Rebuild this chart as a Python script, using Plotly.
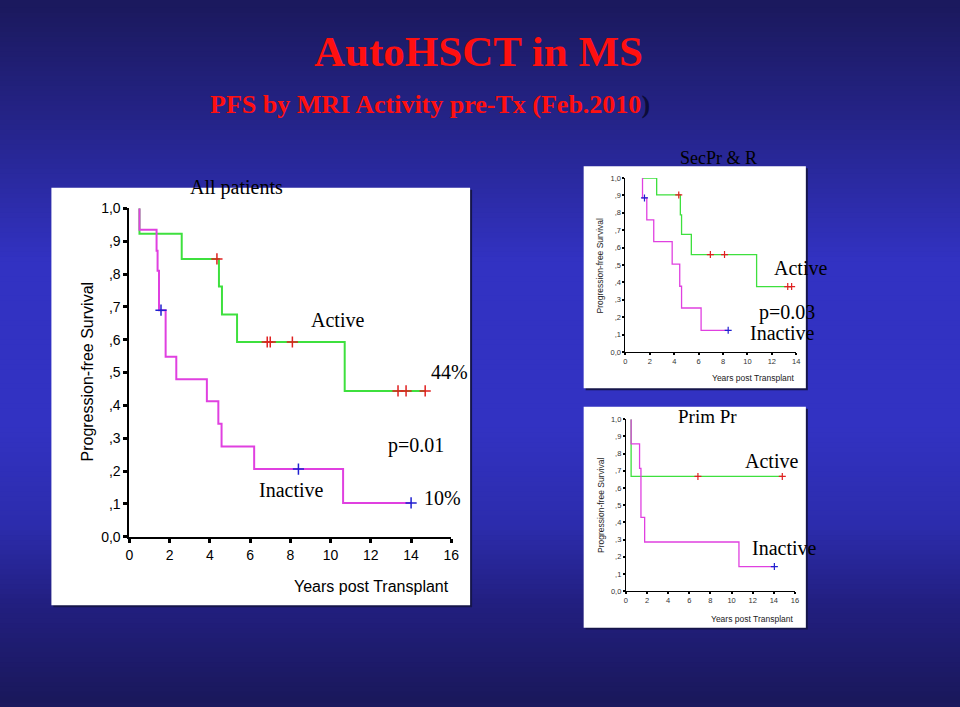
import plotly.graph_objects as go

W, H = 960, 707

# ---------------- data ----------------
# All patients
all_act_x = [0.5, 0.5, 2.6, 4.45, 4.6, 5.35, 10.7, 14.7]
all_act_y = [1.0, 0.923, 0.846, 0.762, 0.677, 0.593, 0.444, 0.444]
all_act_cx = [4.35, 6.85, 7.0, 8.1, 13.35, 13.75, 14.7]
all_act_cy = [0.846, 0.593, 0.593, 0.593, 0.444, 0.444, 0.444]
all_ina_x = [0.5, 0.5, 1.35, 1.4, 1.47, 1.8, 2.33, 3.85, 4.42, 4.58, 6.2, 10.62, 14.0]
all_ina_y = [1.0, 0.935, 0.871, 0.81, 0.69, 0.548, 0.48, 0.413, 0.344, 0.275, 0.206, 0.103, 0.103]
all_ina_cx = [1.57, 8.4, 14.0]
all_ina_cy = [0.69, 0.206, 0.103]

# SecPr & R
sec_act_x = [1.4, 2.56, 4.5, 4.6, 5.4, 10.75, 13.62]
sec_act_y = [1.0, 0.903, 0.788, 0.676, 0.56, 0.376, 0.376]
sec_act_cx = [4.37, 6.96, 8.12, 13.3, 13.62]
sec_act_cy = [0.903, 0.56, 0.56, 0.376, 0.376]
sec_ina_x = [1.4, 1.4, 1.75, 2.32, 3.83, 4.45, 4.6, 6.2, 8.42]
sec_ina_y = [1.0, 0.886, 0.76, 0.635, 0.505, 0.378, 0.253, 0.125, 0.125]
sec_ina_cx = [1.56, 8.42]
sec_ina_cy = [0.886, 0.125]

# Prim Pr
pri_act_x = [0.5, 0.5, 14.8]
pri_act_y = [1.0, 0.667, 0.667]
pri_act_cx = [6.82, 14.8]
pri_act_cy = [0.667, 0.667]
pri_ina_x = [0.5, 0.5, 1.3, 1.43, 1.78, 10.7, 14.05]
pri_ina_y = [1.0, 0.857, 0.714, 0.429, 0.286, 0.143, 0.143]
pri_ina_cx = [14.05]
pri_ina_cy = [0.143]

y_tickvals = [0, 0.1, 0.2, 0.3, 0.4, 0.5, 0.6, 0.7, 0.8, 0.9, 1.0]
y_ticktext = ["0,0", ",1", ",2", ",3", ",4", ",5", ",6", ",7", ",8", ",9", "1,0"]
x_ticks_16 = [0, 2, 4, 6, 8, 10, 12, 14, 16]
x_ticks_14 = [0, 2, 4, 6, 8, 10, 12, 14]

GREEN = "#3ee03e"
MAGENTA = "#e040e0"
RED = "#e02020"
BLUE = "#2020d0"


def px(x):
    return x / W


def py(y):
    return 1 - y / H


fig = go.Figure()

# ---------------- background gradient ----------------
stops = [(0, (27, 25, 94)), (120, (37, 36, 138)), (260, (50, 50, 194)),
         (430, (50, 50, 194)), (530, (44, 44, 172)), (610, (34, 31, 128)),
         (707, (26, 24, 92))]


def col_at(y):
    for (y0, c0), (y1, c1) in zip(stops[:-1], stops[1:]):
        if y0 <= y <= y1:
            t = (y - y0) / (y1 - y0)
            c = [round(a + (b - a) * t) for a, b in zip(c0, c1)]
            return "rgb(%d,%d,%d)" % tuple(c)
    return "rgb(%d,%d,%d)" % stops[-1][1]


shapes = []
step = 5
for y0 in range(0, H, step):
    shapes.append(dict(type="rect", xref="paper", yref="paper", x0=-0.01, x1=1.01,
                       y0=py(y0 + step + 0.5), y1=py(y0 - 0.5), fillcolor=col_at(y0 + step / 2),
                       line=dict(width=0), layer="below"))

# white panels
for (x0, y0, x1, y1) in [(48, 184, 472, 611), (587, 162, 812, 389), (587, 408, 812, 634)]:
    shapes.append(dict(type="rect", xref="paper", yref="paper", x0=px(x0 + 2), x1=px(x1 + 2),
                       y0=py(y1 + 2), y1=py(y0 + 2), fillcolor="#15154a",
                       line=dict(width=0), layer="below"))
    shapes.append(dict(type="rect", xref="paper", yref="paper", x0=px(x0), x1=px(x1),
                       y0=py(y1), y1=py(y0), fillcolor="white",
                       line=dict(width=0), layer="below"))


# ---------------- traces ----------------
def add_km(x, y, cx, cy, color, ccolor, xa, ya, lw, msize, mlw):
    fig.add_trace(go.Scatter(x=x, y=y, mode="lines", line=dict(color=color, width=lw, shape="hv"),
                             xaxis=xa, yaxis=ya, showlegend=False, cliponaxis=False,
                             hoverinfo="skip"))
    fig.add_trace(go.Scatter(x=cx, y=cy, mode="markers",
                             marker=dict(symbol="cross-thin", size=msize,
                                         line=dict(color=ccolor, width=mlw)),
                             xaxis=xa, yaxis=ya, showlegend=False, cliponaxis=False,
                             hoverinfo="skip"))


add_km(all_act_x, all_act_y, all_act_cx, all_act_cy, GREEN, RED, "x", "y", 2, 8, 1.5)
add_km(all_ina_x, all_ina_y, all_ina_cx, all_ina_cy, MAGENTA, BLUE, "x", "y", 2, 8, 1.5)
add_km(sec_act_x, sec_act_y, sec_act_cx, sec_act_cy, GREEN, RED, "x2", "y2", 1.3, 5, 1.2)
add_km(sec_ina_x, sec_ina_y, sec_ina_cx, sec_ina_cy, MAGENTA, BLUE, "x2", "y2", 1.3, 5, 1.2)
add_km(pri_act_x, pri_act_y, pri_act_cx, pri_act_cy, GREEN, RED, "x3", "y3", 1.3, 5, 1.2)
add_km(pri_ina_x, pri_ina_y, pri_ina_cx, pri_ina_cy, MAGENTA, BLUE, "x3", "y3", 1.3, 5, 1.2)

# ---------------- axes ----------------
SANS = "Liberation Sans, Arial, sans-serif"
SERIF = "Liberation Serif, Times New Roman, serif"


def xaxis(dom_px, rng, ticks, anchor, fs, tl, tw, lw, col):
    return dict(domain=[px(dom_px[0]), px(dom_px[1])], range=rng, anchor=anchor,
                tickvals=ticks, ticktext=[str(t) for t in ticks], showgrid=False, zeroline=False,
                showline=True, linecolor="black", linewidth=lw, ticks="outside", ticklen=tl,
                tickwidth=tw, tickcolor="black", tickfont=dict(family=SANS, size=fs, color=col),
                fixedrange=True)


def yaxis(dom_px, anchor, fs, tl, tw, lw, col):
    return dict(domain=[py(dom_px[1]), py(dom_px[0])], range=[0, 1], anchor=anchor,
                tickvals=y_tickvals, ticktext=y_ticktext, showgrid=False, zeroline=False,
                showline=True, linecolor="black", linewidth=lw, ticks="outside", ticklen=tl,
                tickwidth=tw, tickcolor="black", tickfont=dict(family=SANS, size=fs, color=col),
                fixedrange=True)


layout_axes = dict(
    xaxis=xaxis((127, 453), [0, 16], x_ticks_16, "y", 14, 4, 3, 2, "black"),
    yaxis=yaxis((205, 541), "x", 14, 4, 3, 2, "black"),
    xaxis2=xaxis((629.3, 802.3), [0, 14], x_ticks_14, "y2", 7.5, 2, 1.5, 1, "#333"),
    yaxis2=yaxis((174, 352), "x2", 7.5, 2, 1.5, 1, "#333"),
    xaxis3=xaxis((629.7, 801), [0, 16], x_ticks_16, "y3", 7.5, 2, 1.5, 1, "#333"),
    yaxis3=yaxis((420.7, 596.7), "x3", 7.5, 2, 1.5, 1, "#333"),
)

# ---------------- annotations ----------------
ann = []


def text(t, x, y, size, family=SERIF, color="black", xanchor="center", angle=0):
    ann.append(dict(text=t, x=px(x), y=py(y), xref="paper", yref="paper", showarrow=False,
                    xanchor=xanchor, yanchor="middle", textangle=angle,
                    font=dict(family=family, size=size, color=color)))


text("<b>AutoHSCT in MS</b>", 480, 44, 43, color="#ff1010")
text("<b>PFS by MRI Activity pre-Tx (Feb.2010</b><span style='color:#0c0c38'><b>)</b></span>",
     431, 99, 26, color="#ff1010")

text("All patients", 235, 184, 20)
text("Active", 338, 319, 20)
text("44%", 451, 372, 20)
text("p=0.01", 417, 448, 20)
text("Inactive", 291, 493, 20)
text("10%", 444, 501, 20)
text("Progression-free Survival", 85, 372, 16, family=SANS, angle=-90)
text("Years post Transplant", 453, 592, 16, family=SANS, xanchor="right")

text("SecPr & R", 724, 153, 18)
text("Active", 807, 266, 20)
text("p=0.03", 793, 312, 20)
text("Inactive", 788, 333, 20)
text("Progression-free Survival", 604, 263, 8.5, family=SANS, angle=-90, color="#222")
text("Years post Transplant", 803, 379, 8.5, family=SANS, xanchor="right", color="#222")

text("Prim Pr", 712, 418, 19)
text("Active", 777, 463, 20)
text("Inactive", 790, 553, 20)
text("Progression-free Survival", 604, 508, 8.5, family=SANS, angle=-90, color="#222")
text("Years post Transplant", 802, 625, 8.5, family=SANS, xanchor="right", color="#222")

fig.update_layout(
    width=W, height=H, autosize=False,
    margin=dict(l=0, r=0, t=0, b=0, pad=0),
    paper_bgcolor="rgb(27,25,94)", plot_bgcolor="rgba(0,0,0,0)",
    shapes=shapes, annotations=ann, showlegend=False,
    **layout_axes,
)

fig.write_html("out.html", config={"displayModeBar": False})
